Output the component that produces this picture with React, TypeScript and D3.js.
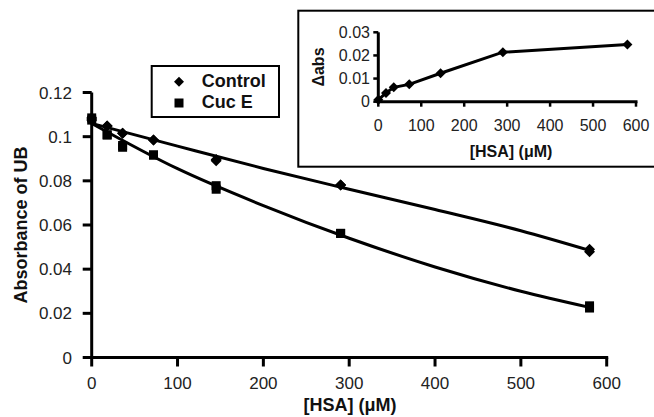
import React from "react";
import * as d3 from "d3";

// ---- Main chart data ----
const concentrations = [0, 18, 36, 72, 145, 290, 580];
const controlValues = [0.1075, 0.1048, 0.1015, 0.0985, 0.0891, 0.0781, 0.0479];
const controlRep2 = [0.1085, 0.1048, 0.1015, 0.0985, 0.0897, 0.0781, 0.0490];
const cucEValues = [0.1075, 0.1008, 0.0952, 0.0917, 0.0762, 0.0562, 0.0224];
const cucERep2 = [0.1085, 0.1008, 0.0960, 0.0917, 0.0778, 0.0562, 0.0234];

// trend lines (fitted curves)
const trendX = [0, 100, 200, 300, 400, 500, 580];
const controlTrendY = [0.106, 0.0957, 0.0856, 0.0762, 0.067, 0.0574, 0.0485];
const cucETrendY = [0.106, 0.0855, 0.0688, 0.054, 0.041, 0.03, 0.0227];

const mainXTicks = [0, 100, 200, 300, 400, 500, 600];
const mainYTicks = [0, 0.02, 0.04, 0.06, 0.08, 0.1, 0.12];
const mainYTickLabels = ["0", "0.02", "0.04", "0.06", "0.08", "0.1", "0.12"];

// ---- Inset data ----
const insetX = [0, 18, 36, 72, 145, 290, 580];
const insetDelta = [0.0008, 0.0038, 0.0062, 0.0075, 0.0123, 0.0214, 0.0247];
const insetXTicks = [0, 100, 200, 300, 400, 500, 600];
const insetYTicks = [0, 0.01, 0.02, 0.03];
const insetYTickLabels = ["0", "0.01", "0.02", "0.03"];

const legendLabels = ["Control", "Cuc E"];

const FONT = "'Liberation Sans', Arial, Helvetica, sans-serif";

function Diamond({ x, y, r }: { x: number; y: number; r: number }) {
  return <path d={`M${x},${y - r}L${x + r},${y}L${x},${y + r}L${x - r},${y}Z`} fill="#000" />;
}
function Square({ x, y, s }: { x: number; y: number; s: number }) {
  return <rect x={x - s / 2} y={y - s / 2} width={s} height={s} fill="#000" />;
}

export default function App() {
  const W = 654, H = 417;
  const x = d3.scaleLinear().domain([0, 600]).range([91.7, 606.7]);
  const y = d3.scaleLinear().domain([0, 0.12]).range([357.5, 92.5]);

  const ix = d3.scaleLinear().domain([0, 600]).range([378.3, 636]);
  const iy = d3.scaleLinear().domain([0, 0.03]).range([101.7, 32.3]);

  const trend = d3
    .line<[number, number]>()
    .x((d) => x(d[0]))
    .y((d) => y(d[1]))
    .curve(d3.curveMonotoneX);

  const insetLine = d3
    .line<[number, number]>()
    .x((d) => ix(d[0]))
    .y((d) => iy(d[1]));

  const ctrlTrend = trend(trendX.map((v, i) => [v, controlTrendY[i]]) as [number, number][]) || "";
  const cucTrend = trend(trendX.map((v, i) => [v, cucETrendY[i]]) as [number, number][]) || "";
  const insetPath = insetLine(insetX.map((v, i) => [v, insetDelta[i]]) as [number, number][]) || "";

  return (
    <svg
      width={W}
      height={H}
      style={{ position: "absolute", left: 0, top: 0, background: "#fff" }}
      fontFamily={FONT}
    >
      <rect x={0} y={0} width={W} height={H} fill="#fff" />

      {/* Main axes */}
      <line x1={x(0)} x2={x(0)} y1={y(0.12)} y2={y(0) + 1.5} stroke="#000" strokeWidth={3} />
      <line x1={x(0) - 1.5} x2={x(600) + 1.5} y1={y(0)} y2={y(0)} stroke="#000" strokeWidth={3} />
      {mainYTicks.map((t, i) => (
        <g key={"yt" + i}>
          <line x1={x(0) - 9} x2={x(0)} y1={y(t)} y2={y(t)} stroke="#000" strokeWidth={3} />
          <text x={72} y={y(t)} dy="0.36em" textAnchor="end" fontSize={17} fill="#222">
            {mainYTickLabels[i]}
          </text>
        </g>
      ))}
      {mainXTicks.map((t, i) => (
        <g key={"xt" + i}>
          <line x1={x(t)} x2={x(t)} y1={y(0)} y2={y(0) + 9} stroke="#000" strokeWidth={3} />
          <text x={x(t)} y={389} textAnchor="middle" fontSize={17} fill="#222">
            {t}
          </text>
        </g>
      ))}
      <text x={350} y={411} textAnchor="middle" fontSize={18} fontWeight="bold" fill="#111">
        [HSA] (μM)
      </text>
      <text
        transform={`translate(27,225) rotate(-90)`}
        textAnchor="middle"
        fontSize={18}
        fontWeight="bold"
        fill="#111"
      >
        Absorbance of UB
      </text>

      {/* Trend lines */}
      <path d={ctrlTrend} fill="none" stroke="#000" strokeWidth={3} />
      <path d={cucTrend} fill="none" stroke="#000" strokeWidth={3} />

      {/* Markers */}
      {concentrations.map((c, i) => (
        <g key={"m" + i}>
          <Diamond x={x(c)} y={y(controlValues[i])} r={5.5} />
          <Diamond x={x(c)} y={y(controlRep2[i])} r={5.5} />
          <Square x={x(c)} y={y(cucEValues[i])} s={9} />
          <Square x={x(c)} y={y(cucERep2[i])} s={9} />
        </g>
      ))}

      {/* Legend */}
      <rect x={151.7} y={66} width={127.3} height={51} fill="#fff" stroke="#000" strokeWidth={2} />
      <Diamond x={179} y={81.7} r={5} />
      <Square x={179} y={103} s={9} />
      <text x={201.7} y={86.5} fontSize={18} fontWeight="bold" fill="#111">
        {legendLabels[0]}
      </text>
      <text x={201.7} y={108} fontSize={18} fontWeight="bold" fill="#111">
        {legendLabels[1]}
      </text>

      {/* Inset */}
      <rect x={298.3} y={10.7} width={360} height={156} fill="#fff" stroke="#000" strokeWidth={2} />
      <line x1={ix(0)} x2={ix(0)} y1={iy(0.03)} y2={iy(0) + 1.5} stroke="#000" strokeWidth={3} />
      <line x1={ix(0) - 1.5} x2={ix(600) + 1.5} y1={iy(0)} y2={iy(0)} stroke="#000" strokeWidth={3} />
      {insetYTicks.map((t, i) => (
        <g key={"iyt" + i}>
          <line x1={ix(0) - 5} x2={ix(0)} y1={iy(t)} y2={iy(t)} stroke="#000" strokeWidth={2.5} />
          <text x={370} y={iy(t)} dy="0.36em" textAnchor="end" fontSize={16} fill="#222">
            {insetYTickLabels[i]}
          </text>
        </g>
      ))}
      {insetXTicks.map((t, i) => (
        <g key={"ixt" + i}>
          <line x1={ix(t)} x2={ix(t)} y1={iy(0)} y2={iy(0) + 5} stroke="#000" strokeWidth={2.5} />
          <text x={ix(t)} y={131} textAnchor="middle" fontSize={16} fill="#222">
            {t}
          </text>
        </g>
      ))}
      <text x={511} y={157} textAnchor="middle" fontSize={16} fontWeight="bold" fill="#111">
        [HSA] (μM)
      </text>
      <text
        transform={`translate(324,67) rotate(-90)`}
        textAnchor="middle"
        fontSize={16}
        fontWeight="bold"
        fill="#111"
      >
        Δabs
      </text>
      <path d={insetPath} fill="none" stroke="#000" strokeWidth={3} />
      {insetX.map((c, i) => (
        <Diamond key={"id" + i} x={ix(c)} y={iy(insetDelta[i])} r={5} />
      ))}
    </svg>
  );
}
